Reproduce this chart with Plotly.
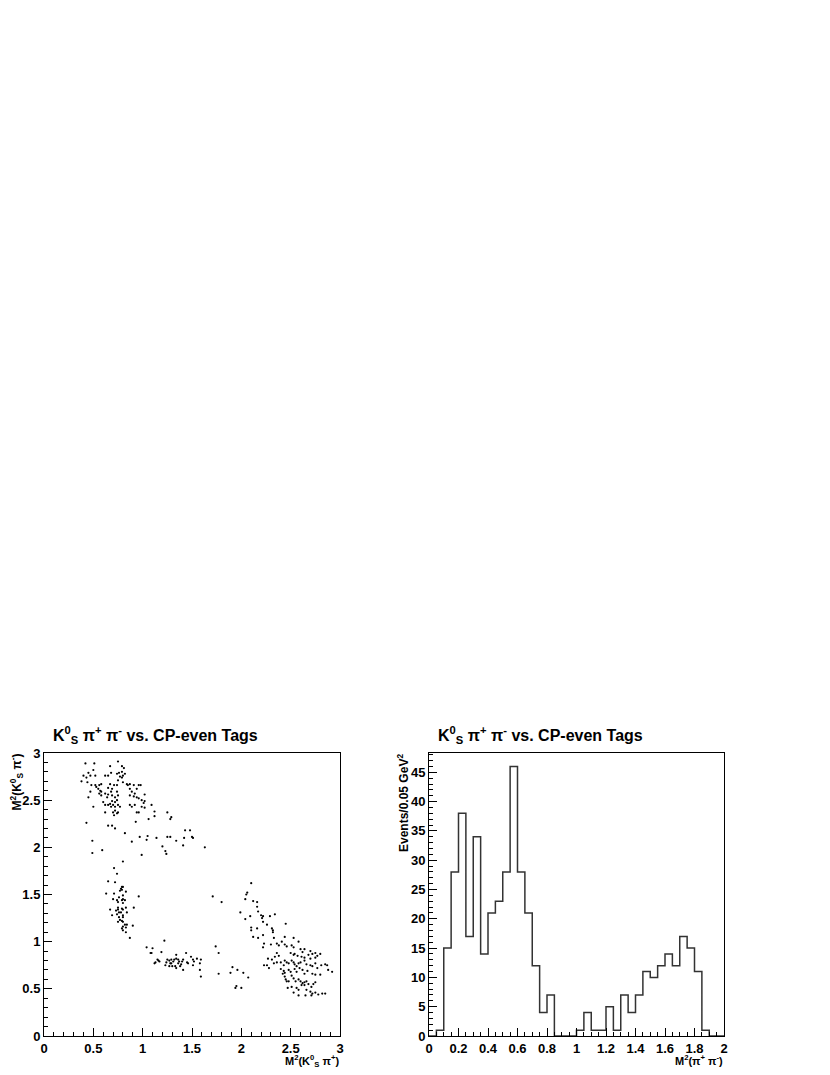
import numpy as np
import plotly.graph_objects as go

# Dalitz plot points: (M^2(Ks pi+), M^2(Ks pi-)), grouped by region
pts_upper = [
    (0.42, 2.89), (0.51, 2.89), (0.75, 2.91), (0.79, 2.86), (0.81, 2.84), (0.67, 2.86),
    (0.40, 2.76), (0.45, 2.79), (0.50, 2.82), (0.52, 2.76), (0.47, 2.76), (0.43, 2.74),
    (0.38, 2.70), (0.44, 2.69), (0.48, 2.66), (0.52, 2.66), (0.53, 2.64), (0.56, 2.66),
    (0.58, 2.67), (0.62, 2.76), (0.65, 2.76), (0.68, 2.79), (0.74, 2.78), (0.76, 2.79),
    (0.79, 2.80), (0.80, 2.76), (0.82, 2.78), (0.77, 2.75), (0.79, 2.74), (0.75, 2.71),
    (0.80, 2.69), (0.84, 2.67), (0.85, 2.66), (0.87, 2.67), (0.91, 2.66), (0.96, 2.66),
    (0.98, 2.66), (0.94, 2.62), (0.67, 2.67), (0.69, 2.62), (0.65, 2.63), (0.71, 2.66),
    (0.74, 2.66), (0.55, 2.62), (0.57, 2.60), (0.56, 2.57), (0.58, 2.59), (0.62, 2.57),
    (0.58, 2.55), (0.64, 2.53), (0.65, 2.56), (0.69, 2.55), (0.72, 2.53), (0.75, 2.55),
    (0.74, 2.59), (0.68, 2.59), (0.87, 2.62), (0.89, 2.59), (0.92, 2.57), (0.91, 2.54),
    (0.96, 2.52), (0.87, 2.55), (0.94, 2.53), (1.02, 2.56), (0.99, 2.50), (1.02, 2.49),
    (1.01, 2.47), (0.47, 2.59), (0.45, 2.53), (0.60, 2.48), (0.62, 2.45), (0.65, 2.45),
    (0.67, 2.46), (0.69, 2.49), (0.72, 2.48), (0.74, 2.50), (0.70, 2.45), (0.68, 2.43),
    (0.72, 2.43), (0.75, 2.45), (0.77, 2.43), (0.50, 2.43), (0.62, 2.37), (0.70, 2.37),
    (0.71, 2.34), (0.74, 2.36), (0.75, 2.37), (0.72, 2.39), (0.87, 2.45), (0.89, 2.43),
    (0.92, 2.45), (0.94, 2.37), (0.96, 2.37), (0.99, 2.43), (1.02, 2.42), (1.09, 2.45),
    (1.12, 2.38), (1.12, 2.33), (1.06, 2.30), (1.25, 2.37), (1.29, 2.32), (1.28, 2.30),
    (0.43, 2.26), (0.65, 2.23), (0.69, 2.23), (0.72, 2.20), (0.93, 2.27), (1.43, 2.18),
    (1.48, 2.18),
]

pts_middle = [
    (0.82, 2.15), (0.97, 2.11), (1.05, 2.12), (1.04, 2.08), (0.89, 2.06), (1.14, 2.10),
    (1.25, 2.11), (1.28, 2.11), (1.34, 2.07), (1.42, 2.10), (1.50, 2.11), (1.51, 2.10),
    (1.41, 2.02), (1.20, 2.01), (1.23, 1.96), (1.24, 1.93), (1.63, 2.00), (0.49, 2.07),
    (0.49, 1.94), (0.59, 1.97), (0.99, 1.92), (0.80, 1.85), (0.71, 1.78), (0.74, 1.72),
    (0.65, 1.64), (0.72, 1.63),
]

pts_vertical = [
    (0.79, 1.58), (0.80, 1.58), (0.78, 1.56), (0.77, 1.54), (0.79, 1.55), (0.83, 1.53),
    (0.63, 1.51), (0.71, 1.51), (0.80, 1.49), (0.96, 1.48), (0.76, 1.47), (0.70, 1.45),
    (0.74, 1.44), (0.75, 1.42), (0.79, 1.44), (0.80, 1.45), (0.82, 1.44), (0.80, 1.41),
    (0.91, 1.36), (0.83, 1.36), (0.75, 1.36), (0.75, 1.34), (0.67, 1.34), (0.73, 1.33),
    (0.79, 1.35), (0.80, 1.34), (0.84, 1.31), (0.76, 1.31), (0.78, 1.31), (0.74, 1.29),
    (0.69, 1.28), (0.80, 1.28), (0.76, 1.26), (0.80, 1.26), (0.77, 1.23), (0.79, 1.22),
    (0.80, 1.21), (0.75, 1.21), (0.82, 1.18), (0.84, 1.18), (0.80, 1.16), (0.83, 1.15),
    (0.79, 1.14), (0.90, 1.17), (0.80, 1.12), (0.83, 1.10), (0.87, 1.04),
]

pts_horizontal = [
    (1.04, 0.94), (1.10, 0.93), (1.22, 1.01), (1.08, 0.88), (1.09, 0.88), (1.19, 0.89),
    (1.13, 0.78), (1.12, 0.77), (1.15, 0.81), (1.16, 0.80), (1.17, 0.79), (1.23, 0.75),
    (1.24, 0.78), (1.25, 0.81), (1.27, 0.80), (1.29, 0.81), (1.28, 0.77), (1.31, 0.79),
    (1.32, 0.81), (1.34, 0.82), (1.34, 0.86), (1.36, 0.81), (1.37, 0.79), (1.39, 0.76),
    (1.33, 0.74), (1.34, 0.72), (1.38, 0.74), (1.41, 0.70), (1.41, 0.81), (1.44, 0.88),
    (1.45, 0.78), (1.46, 0.77), (1.49, 0.84), (1.51, 0.81), (1.52, 0.79), (1.51, 0.75),
    (1.55, 0.82), (1.58, 0.77), (1.59, 0.81), (1.58, 0.70), (1.59, 0.63), (1.27, 0.74),
    (1.29, 0.77), (1.30, 0.74), (1.36, 0.77), (1.40, 0.79), (1.71, 1.48), (1.80, 1.42),
    (1.74, 0.95), (1.77, 0.88), (1.77, 0.66), (1.91, 0.73), (1.89, 0.67), (1.96, 0.70),
    (2.02, 0.67), (2.07, 0.62), (1.95, 0.53), (1.94, 0.51), (2.00, 0.51),
]

pts_right = [
    (2.10, 1.62), (2.06, 1.52), (2.05, 1.50), (2.04, 1.45), (2.12, 1.43), (2.16, 1.42),
    (2.16, 1.37), (1.99, 1.31), (2.09, 1.27), (2.04, 1.24), (2.17, 1.32), (2.20, 1.28),
    (2.22, 1.27), (2.21, 1.25), (2.29, 1.27), (2.34, 1.29), (2.22, 1.21), (2.26, 1.18),
    (2.45, 1.19), (2.10, 1.15), (2.10, 1.12), (2.16, 1.14), (2.31, 1.14), (2.32, 1.12),
    (2.32, 1.10), (2.12, 1.05), (2.17, 1.04), (2.22, 1.07), (2.44, 1.05), (2.33, 1.04),
    (2.53, 1.04), (2.58, 1.00), (2.23, 0.98), (2.30, 0.97), (2.36, 0.98), (2.38, 0.96),
    (2.41, 1.00), (2.44, 0.97), (2.22, 0.94), (2.46, 0.95), (2.51, 0.96), (2.53, 0.94),
    (2.60, 0.92), (2.64, 0.92), (2.62, 0.89), (2.70, 0.90), (2.72, 0.87), (2.75, 0.88),
    (2.77, 0.85), (2.80, 0.87), (2.36, 0.88), (2.34, 0.84), (2.38, 0.85), (2.50, 0.88),
    (2.53, 0.86), (2.54, 0.87), (2.57, 0.85), (2.61, 0.84), (2.64, 0.83), (2.68, 0.86),
    (2.70, 0.82), (2.75, 0.83), (2.27, 0.82), (2.31, 0.81), (2.26, 0.75), (2.23, 0.75),
    (2.28, 0.72), (2.33, 0.77), (2.36, 0.78), (2.40, 0.78), (2.43, 0.75), (2.44, 0.80),
    (2.46, 0.78), (2.48, 0.77), (2.51, 0.80), (2.53, 0.78), (2.54, 0.76), (2.56, 0.74),
    (2.58, 0.77), (2.60, 0.78), (2.64, 0.80), (2.66, 0.76), (2.70, 0.75), (2.72, 0.74),
    (2.75, 0.77), (2.77, 0.72), (2.81, 0.75), (2.85, 0.76), (2.87, 0.75), (2.40, 0.71),
    (2.43, 0.69), (2.42, 0.66), (2.44, 0.67), (2.48, 0.70), (2.50, 0.68), (2.54, 0.71),
    (2.56, 0.68), (2.59, 0.72), (2.62, 0.70), (2.64, 0.66), (2.67, 0.69), (2.72, 0.66),
    (2.75, 0.65), (2.80, 0.65), (2.88, 0.70), (2.92, 0.68), (2.44, 0.63), (2.45, 0.60),
    (2.46, 0.58), (2.48, 0.58), (2.51, 0.64), (2.53, 0.61), (2.55, 0.58), (2.58, 0.60),
    (2.60, 0.58), (2.62, 0.56), (2.61, 0.54), (2.64, 0.57), (2.64, 0.54), (2.66, 0.58),
    (2.68, 0.55), (2.71, 0.52), (2.73, 0.55), (2.75, 0.57), (2.47, 0.51), (2.51, 0.52),
    (2.56, 0.51), (2.58, 0.49), (2.53, 0.46), (2.66, 0.49), (2.70, 0.47), (2.72, 0.45),
    (2.75, 0.46), (2.78, 0.44), (2.82, 0.45), (2.85, 0.45), (2.65, 0.43), (2.71, 0.43),
    (2.58, 0.43),
]

# M^2(pi+ pi-) histogram, 0.05 GeV^2 bins from 0 to 2
bin_width = 0.05
hist_counts = [
    0, 1, 15, 28, 38, 17, 34, 14, 21, 23, 28, 46, 28, 21, 12, 4, 7, 0, 0, 0,
    1, 4, 1, 1, 5, 1, 7, 4, 7, 11, 10, 12, 14, 12, 17, 15, 11, 1, 0, 0,
]

all_pts = pts_upper + pts_middle + pts_vertical + pts_horizontal + pts_right
kspip = [p[0] for p in all_pts]
kspim = [p[1] for p in all_pts]

edges = np.arange(len(hist_counts) + 1) * bin_width
hx = list(edges)
hy = list(hist_counts) + [hist_counts[-1]]

W, H = 830, 1075
FONT = "Liberation Sans"
PAGE_OFFSET = 8  # the html body margin shifts the figure by 8px


def px_x(p):
    return (p - PAGE_OFFSET) / W


def px_y(p):
    return 1 - (p - PAGE_OFFSET) / H


fig = go.Figure()

fig.add_trace(go.Scatter(
    x=kspip, y=kspim, mode="markers",
    marker=dict(size=2.2, color="black"),
    xaxis="x", yaxis="y", hoverinfo="skip", showlegend=False,
))

fig.add_trace(go.Scatter(
    x=hx, y=hy, mode="lines", line=dict(shape="hv", color="#333333", width=1.5),
    xaxis="x2", yaxis="y2", hoverinfo="skip", showlegend=False,
))

tickfont = dict(family=FONT, size=13, color="black", weight="bold")
common = dict(
    showgrid=False, zeroline=False, showline=True, linecolor="black", linewidth=1,
    mirror=True, ticks="inside", ticklen=8, tickcolor="black", tickwidth=1,
    tickfont=tickfont, automargin=False, ticklabelstandoff=0,
)

y_dom = [px_y(1036), px_y(753)]

fig.update_layout(
    width=W, height=H,
    margin=dict(l=0, r=0, t=0, b=0),
    paper_bgcolor="white", plot_bgcolor="white",
    xaxis=dict(domain=[px_x(44), px_x(340)], range=[0, 3], dtick=0.5, anchor="y",
               minor=dict(dtick=0.1, ticks="inside", ticklen=4, tickcolor="black"),
               **common),
    yaxis=dict(domain=y_dom, range=[0, 3], dtick=0.5, anchor="x",
               minor=dict(dtick=0.1, ticks="inside", ticklen=4, tickcolor="black"),
               **common),
    xaxis2=dict(domain=[px_x(429), px_x(724)], range=[0, 2], dtick=0.2, anchor="y2",
                minor=dict(dtick=0.05, ticks="inside", ticklen=4, tickcolor="black"),
                **common),
    yaxis2=dict(domain=y_dom, range=[0, 48.3], dtick=5, anchor="x2",
                minor=dict(dtick=1, ticks="inside", ticklen=4, tickcolor="black"),
                **common),
)

title_txt = "<b>K<sup>0</sup><sub>S</sub> π<sup>+</sup> π<sup>-</sup> vs. CP-even Tags</b>"
label_font = dict(family=FONT, size=11, color="black")

annotations = [
    dict(text=title_txt, x=px_x(51), y=px_y(735), xanchor="left", yanchor="middle",
         font=dict(family=FONT, size=16, color="black")),
    dict(text=title_txt, x=px_x(436), y=px_y(735), xanchor="left", yanchor="middle",
         font=dict(family=FONT, size=16, color="black")),
    dict(text="<b>M<sup>2</sup>(K<sup>0</sup><sub>S</sub> π<sup>-</sup>)</b>",
         x=px_x(17), y=px_y(752), xanchor="center", yanchor="top", textangle=-90,
         font=dict(family=FONT, size=12, color="black")),
    dict(text="<b>M<sup>2</sup>(K<sup>0</sup><sub>S</sub> π<sup>+</sup>)</b>",
         x=px_x(341), y=px_y(1051), xanchor="right", yanchor="top", font=label_font),
    dict(text="<b>Events/0.05 GeV<sup>2</sup></b>",
         x=px_x(403), y=px_y(752), xanchor="center", yanchor="top", textangle=-90,
         font=dict(family=FONT, size=12, color="black")),
    dict(text="<b>M<sup>2</sup>(π<sup>+</sup> π<sup>-</sup>)</b>",
         x=px_x(725), y=px_y(1051), xanchor="right", yanchor="top", font=label_font),
]
for a in annotations:
    a.update(xref="paper", yref="paper", showarrow=False)
fig.update_layout(annotations=annotations)

fig.write_html("out.html", config={"displayModeBar": False})
